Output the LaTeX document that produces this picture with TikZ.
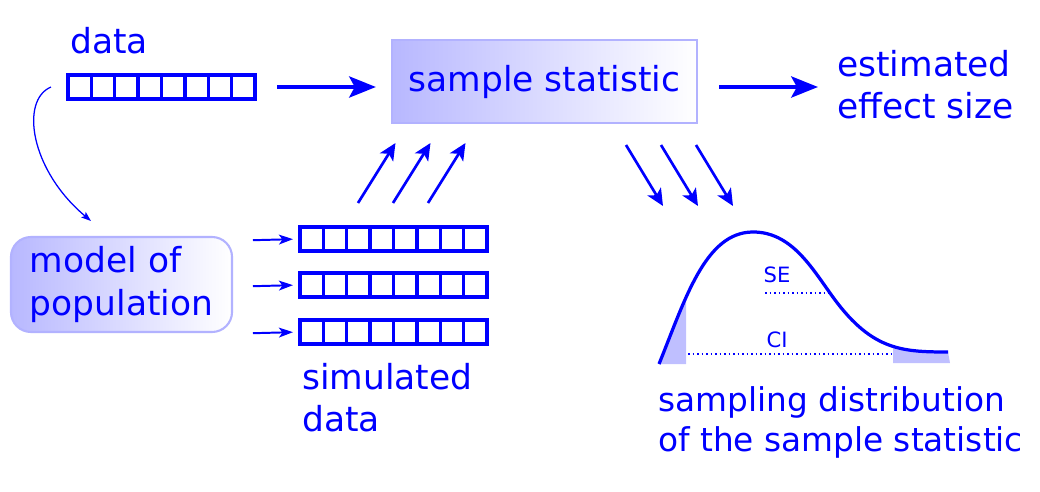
\documentclass[tikz,border=0pt]{standalone}
\usepackage{fontspec}
\setmainfont{DejaVu Sans}
\usetikzlibrary{arrows.meta}

% a row of eight cells, north west corner at (#2,#3)
\def\cellrow(#1)(#2,#3){%
  \node[cellbox, anchor=north west] (#1) at (#2,#3) {};
  \foreach \k in {1,...,7}
    \draw[blue, line width=2.4pt] (#2+\k*23.375,#3) -- (#2+\k*23.375,#3+24);
}
% shaded tail of the distribution between x=#1 and x=#2
\def\tailfill(#1:#2:#3){%
  \begin{scope}
    \clip (#1,200) rectangle (#2,#3);
    \fill[blue!25] (659,364) .. controls (685,300) and (705,232) .. (753,232)
      .. controls (790,232) and (810,265) .. (830,293)
      .. controls (870,350) and (900,352) .. (948,352) -- (950,#3) -- (659,#3) -- cycle;
  \end{scope}
}

\begin{document}
\begin{tikzpicture}[x=0.025cm, y=-0.025cm,
  txt/.style={font=\fontsize{24.5}{30}\selectfont, text=blue, inner sep=0pt, align=left, anchor=north west},
  smalltxt/.style={font=\fontsize{15}{18}\selectfont, text=blue, inner sep=0pt},
  cellbox/.style={draw=blue, line width=2.4pt, minimum width=4.675cm, minimum height=0.6cm, inner sep=0pt, outer sep=0pt},
  statbox/.style={draw=blue!30, line width=1.5pt, left color=blue!28, right color=white,
    minimum width=7.625cm, minimum height=2.075cm, font=\fontsize{24.5}{30}\selectfont, text=blue},
  modelbox/.style={draw=blue!30, line width=1.5pt, left color=blue!28, right color=white, rounded corners=0.5cm,
    minimum width=5.525cm, minimum height=2.375cm, align=left, font=\fontsize{24.5}{30}\selectfont, text=blue},
  bigarrow/.style={draw=blue, line width=2.8pt, -{Stealth[length=19pt,width=15pt,inset=4pt]}},
  midarrow/.style={draw=blue, line width=1.9pt, -{Stealth[length=12pt,width=11pt,inset=3pt]}},
  smallarrow/.style={draw=blue, line width=1.4pt, -{Stealth[length=10pt,width=7pt,inset=2.5pt]}},
  thinarrow/.style={draw=blue, line width=0.9pt, -{Stealth[length=7pt,width=5pt,inset=1.5pt]}},
  dots/.style={draw=blue, line width=2pt, dash pattern=on 1.4pt off 1.8pt}]
  %%%%% START %%%%%
  \useasboundingbox (0,0) rectangle (1040,492);

  % top row
  \node[txt] (datalbl) at (70,27) {data};
  \cellrow(dataarr)(68,75)
  \node[statbox] (stat) at (544.5,81.5) {sample statistic};
  \node[txt] (est) at (837,50) {estimated\\effect size};

  \draw[bigarrow, shorten <=0.55cm, shorten >=0.375cm] (dataarr.east) -- (dataarr.east -| stat.west);
  \draw[bigarrow, shorten <=0.525cm, shorten >=0.475cm] (stat.east |- dataarr.east) -- (est.west |- dataarr.east);

  % model and simulated data
  \node[modelbox] (model) at (121.5,284.5) {model of\\population};
  \coordinate (modeltop) at (91,221);
  \draw[thinarrow] ([xshift=-0.425cm]dataarr.west) .. controls (20,100) and (30,170) .. (modeltop);

  \cellrow(sim1)(300,227)
  \cellrow(sim2)(300,273)
  \cellrow(sim3)(300,320)
  \foreach \s in {sim1,sim2,sim3}
    \draw[smallarrow, shorten >=0.175cm] ([xshift=-1.175cm, yshift=-0.03cm]\s.west) -- (\s.west);
  \node[txt] (simlbl) at (302,363) {simulated\\data};

  \foreach \x in {358,393,428}
    \draw[midarrow] (\x,203) -- ++(37.5,-60);
  \foreach \x in {626,661,696}
    \draw[midarrow] (\x,145) -- ++(37,61);

  % sampling distribution
  \tailfill(659:686:364)
  \tailfill(893:950:363)
  \draw[blue, line width=2.3pt] (659,364) .. controls (685,300) and (705,232) .. (753,232)
    .. controls (790,232) and (810,265) .. (830,293)
    .. controls (870,350) and (900,352) .. (948,352);
  \draw[dots] (688,354) -- (891,354);
  \draw[dots] (765,293) -- (830,293);
  \node[smalltxt] (se) at (777,275) {SE};
  \node[smalltxt] (ci) at (777,340) {CI};
  \node[txt, font=\fontsize{23.3}{28.5}\selectfont] (distlbl) at (658,386) {sampling distribution\\of the sample statistic};
  %%%%% END %%%%%
\end{tikzpicture}
\end{document}
